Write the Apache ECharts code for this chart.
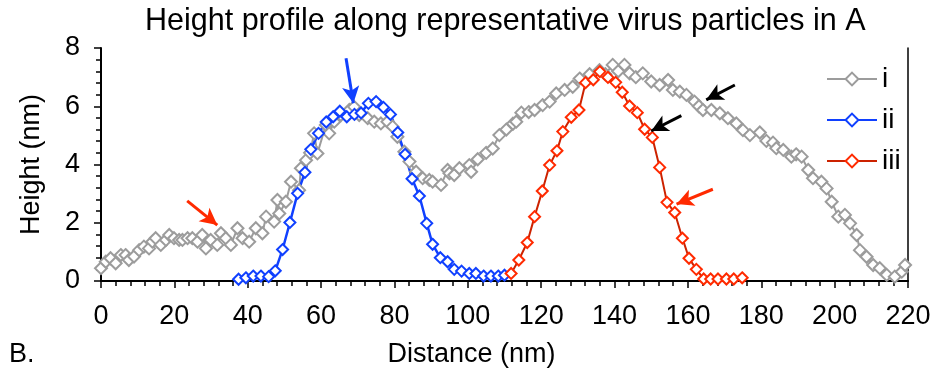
<!DOCTYPE html>
<html>
<head>
<meta charset="utf-8">
<script src="https://cdn.jsdelivr.net/npm/echarts@6/dist/echarts.min.js"></script>
<style>
  html, body { margin: 0; padding: 0; background: #fff; }
  #chart { width: 935px; height: 377px; }
</style>
</head>
<body>
<div id="chart"></div>
<script>
// distance (nm), height (nm)
const seriesI = [
  [0.0, 0.44], [1.3, 0.66], [2.6, 0.78], [4.0, 0.61], [5.4, 0.89], [6.7, 0.89], [7.6, 0.72],
  [9.0, 0.84], [10.4, 1.06], [11.7, 1.18], [13.1, 1.12], [14.0, 1.35], [14.9, 1.47], [16.3, 1.24],
  [17.7, 1.41], [18.6, 1.58], [19.9, 1.47], [21.3, 1.41], [22.2, 1.41], [23.6, 1.47], [24.9, 1.47],
  [26.3, 1.35], [27.6, 1.58], [28.6, 1.12], [29.9, 1.41], [31.7, 1.24], [32.7, 1.64], [34.0, 1.47],
  [35.4, 1.24], [37.2, 1.81], [38.6, 1.47], [40.4, 1.35], [42.2, 1.81], [44.0, 1.64], [45.0, 2.21],
  [47.2, 2.04], [48.1, 2.78], [48.6, 2.32], [50.4, 2.72], [51.8, 3.41], [54.0, 3.12], [54.5, 3.87],
  [55.9, 4.15], [57.0, 4.40], [58.1, 5.07], [59.0, 4.38], [61.3, 5.36], [62.2, 5.07], [63.6, 5.47],
  [65.4, 5.70], [67.7, 5.87], [69.0, 5.98], [70.4, 5.70], [72.7, 5.59], [74.5, 5.47], [76.3, 5.41],
  [78.1, 5.47], [79.5, 5.30], [80.8, 4.95], [82.7, 4.44], [84.1, 4.10], [85.9, 3.75], [87.7, 3.53],
  [89.5, 3.47], [90.4, 3.41], [92.7, 3.30], [94.5, 3.81], [95.0, 3.70], [96.3, 3.64], [97.7, 3.87],
  [100.4, 3.98], [100.9, 3.75], [102.7, 4.18], [105.0, 4.40], [106.8, 4.55], [108.6, 5.01],
  [110.5, 5.20], [112.3, 5.40], [113.2, 5.47], [114.6, 5.78], [116.6, 5.80], [118.2, 5.87],
  [120.4, 6.04], [122.3, 6.16], [124.1, 6.44], [126.4, 6.56], [128.6, 6.67], [130.5, 6.95],
  [133.2, 7.10], [135.9, 7.24], [137.5, 7.10], [139.5, 7.42], [141.0, 7.20], [142.7, 7.42],
  [144.1, 7.13], [145.8, 7.00], [147.7, 7.13], [150.0, 6.85], [152.3, 6.73], [154.6, 6.90],
  [155.9, 6.56], [157.8, 6.50], [159.6, 6.39], [161.8, 6.16], [163.0, 6.00], [164.1, 5.87],
  [166.4, 5.87], [168.7, 5.76], [170.9, 5.59], [173.2, 5.41], [175.0, 5.18], [176.9, 5.01],
  [179.6, 5.10], [181.4, 4.81], [183.2, 4.75], [184.1, 4.56], [186.0, 4.50], [188.2, 4.27],
  [189.5, 4.35], [191.0, 4.27], [192.8, 3.81], [194.1, 3.53], [196.4, 3.41], [197.8, 3.18],
  [199.2, 2.72], [201.0, 2.21], [202.8, 2.27], [204.2, 1.98], [206.0, 1.58], [206.9, 1.06],
  [208.7, 0.83], [210.5, 0.55], [212.3, 0.44], [214.2, 0.21], [216.4, 0.15], [218.3, 0.32],
  [219.2, 0.55]
];

const seriesII = [
  [37.5, 0.06], [39.5, 0.11], [41.5, 0.17], [43.6, 0.17], [45.7, 0.15], [47.5, 0.35], [49.5, 1.08],
  [51.5, 2.01], [53.6, 3.01], [55.6, 3.73], [57.2, 4.52], [59.3, 5.07], [61.4, 5.46], [63.3, 5.64],
  [65.1, 5.83], [67.0, 5.64], [69.1, 5.72], [70.9, 5.77], [72.9, 6.10], [75.0, 6.16], [77.0, 5.96],
  [78.9, 5.72], [80.9, 5.10], [82.9, 4.35], [84.8, 3.51], [86.8, 2.92], [88.8, 1.98], [90.4, 1.26],
  [92.5, 0.80], [94.5, 0.66], [96.3, 0.40], [98.3, 0.34], [100.4, 0.26], [102.2, 0.26],
  [104.3, 0.17], [106.3, 0.17], [108.3, 0.17], [110.0, 0.20]
];

const seriesIII = [
  [111.8, 0.26], [113.9, 0.72], [116.2, 1.32], [118.2, 2.21], [120.3, 3.09], [122.3, 3.98],
  [124.3, 4.47], [125.9, 5.13], [128.2, 5.62], [130.3, 5.87], [132.1, 6.81], [134.2, 6.91],
  [136.0, 7.19], [138.2, 6.99], [140.3, 6.82], [142.1, 6.48], [144.1, 6.01], [146.2, 5.78],
  [148.2, 5.21], [150.3, 4.93], [152.3, 3.90], [154.3, 2.70], [156.4, 2.35], [158.5, 1.47],
  [160.3, 0.78], [162.3, 0.40], [164.3, 0.07], [166.2, 0.07], [168.2, 0.07], [170.5, 0.07],
  [172.5, 0.07], [174.8, 0.11]
];

const seriesNames = ["i", "ii", "iii"];

// annotation arrows: [tail, head] in data units, with colour
const arrows = [
  { from: [23.5, 2.75], to: [31.7, 1.92], color: "#ff2a00" },
  { from: [66.8, 7.65], to: [68.8, 6.10], color: "#1040ff" },
  { from: [172.8, 6.73], to: [165.0, 6.22], color: "#000000" },
  { from: [158.2, 5.68], to: [150.0, 5.15], color: "#000000" },
  { from: [166.8, 3.15], to: [156.9, 2.64], color: "#ff2a00" }
];

const FONT = "Liberation Sans, Arial, sans-serif";

const chart = echarts.init(document.getElementById("chart"), null, { renderer: "canvas" });

function profileSeries(name, data, lineColor, markerColor, size, lineWidth) {
  return {
    name: name,
    type: "line",
    data: data,
    symbol: "diamond",
    symbolSize: size,
    showAllSymbol: true,
    animation: false,
    lineStyle: { color: lineColor, width: lineWidth },
    itemStyle: { color: "#ffffff", borderColor: markerColor, borderWidth: 2 },
    emphasis: { disabled: true }
  };
}

const options = {
  backgroundColor: "#ffffff",
  animation: false,
  title: [
    {
      text: "Height profile along representative virus particles in A",
      left: 140,
      top: 1,
      textStyle: { fontFamily: FONT, fontSize: 30.5, fontWeight: "normal", color: "#000" }
    },
    {
      text: "B.",
      left: 4,
      top: 336,
      textStyle: { fontFamily: FONT, fontSize: 27, fontWeight: "normal", color: "#000" }
    }
  ],
  legend: {
    data: seriesNames,
    orient: "vertical",
    left: 821,
    top: 60,
    itemWidth: 50,
    itemHeight: 16,
    itemGap: 13,
    textStyle: { fontFamily: FONT, fontSize: 28, color: "#000" }
  },
  grid: { left: 101, right: 27, top: 48, bottom: 96 },
  xAxis: {
    type: "value",
    min: 0,
    max: 220,
    interval: 20,
    name: "Distance (nm)",
    nameLocation: "middle",
    nameGap: 60,
    nameTextStyle: { fontFamily: FONT, fontSize: 27, color: "#000", padding: [0, 66, 0, 0] },
    axisLine: { lineStyle: { color: "#000", width: 2 } },
    axisTick: { show: true, inside: false, length: 7, lineStyle: { color: "#000", width: 1.5 } },
    minorTick: { show: true, splitNumber: 5, length: 5, lineStyle: { color: "#000", width: 1.5 } },
    axisLabel: { fontFamily: FONT, fontSize: 27, color: "#000", margin: 22 },
    splitLine: { show: false }
  },
  yAxis: [
    {
      type: "value",
      min: 0,
      max: 8,
      interval: 2,
      name: "Height (nm)",
      nameLocation: "middle",
      nameGap: 56,
      nameTextStyle: { fontFamily: FONT, fontSize: 27, color: "#000" },
      axisLine: { show: true, lineStyle: { color: "#000", width: 2 } },
      axisTick: { show: true, inside: false, length: 7, lineStyle: { color: "#000", width: 1.5 } },
      minorTick: { show: true, splitNumber: 5, length: 5, lineStyle: { color: "#000", width: 1.5 } },
      axisLabel: { fontFamily: FONT, fontSize: 27, color: "#000", margin: 21 },
      splitLine: { show: false }
    },
    {
      type: "value",
      min: 0,
      max: 8,
      position: "right",
      axisLine: { show: true, onZero: false, lineStyle: { color: "#000", width: 1.5 } },
      axisTick: { show: false },
      axisLabel: { show: false },
      splitLine: { show: false }
    }
  ],
  series: [
    profileSeries("i", seriesI, "#9c9c9c", "#9c9c9c", 12, 2),
    profileSeries("ii", seriesII, "#1040ff", "#1040ff", 11, 2.5),
    profileSeries("iii", seriesIII, "#cc2200", "#ff2a00", 11, 2),
    {
      name: "arrows",
      type: "line",
      data: [],
      silent: true,
      animation: false,
      markLine: {
        silent: true,
        animation: false,
        symbol: ["none", "arrow"],
        symbolSize: [13, 17],
        label: { show: false },
        emphasis: { disabled: true },
        data: arrows.map((a) => [
          { coord: a.from, lineStyle: { color: a.color, width: 3, type: "solid" }, itemStyle: { color: a.color } },
          { coord: a.to }
        ])
      }
    }
  ]
};

chart.setOption(options);
</script>
</body>
</html>
